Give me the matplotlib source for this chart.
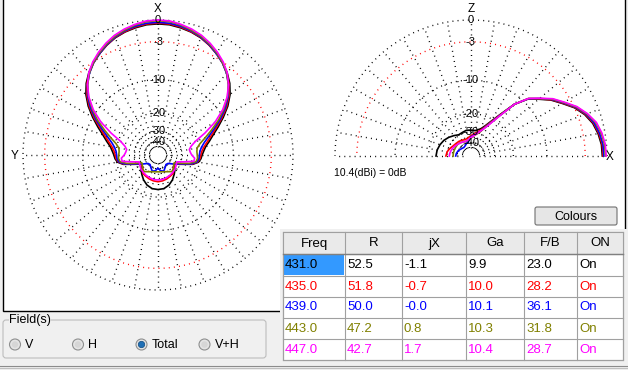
import numpy as np
import matplotlib
matplotlib.use("Agg")
import matplotlib.pyplot as plt
from matplotlib.patches import Rectangle, Circle, FancyBboxPatch

plt.rcParams['font.family'] = ['Liberation Sans', 'DejaVu Sans']

# ---- data (dB relative to 10.4 dBi) ----
series_colors = ['#000000', '#FF0000', '#0000FF', '#808000', '#FF00FF']

# horizontal pattern, degrees from X (pattern is symmetric)
az_angles = [0, 5, 10, 15, 20, 25, 30, 35, 40, 45, 50, 55, 60, 65, 70, 75, 80, 85, 90, 95, 100,
             105, 110, 115, 120, 130, 140, 150, 160, 170, 180]
az_431 = [-0.5, -0.55, -0.75, -1.0, -1.35, -1.85, -2.45, -3.1, -3.9, -4.9, -6.2, -7.9, -10.0, -12.2,
          -14.3, -16.0, -17.6, -18.5, -19.2, -19.6, -20.4,
          -22.7, -27.5, -31.3, -34.2, -31.0, -28.8, -26.5, -24.7, -23.6, -23.4]
az_435 = [-0.4, -0.45, -0.65, -0.95, -1.3, -1.85, -2.45, -3.15, -4.0, -5.05, -6.4, -8.2, -10.4, -12.8,
          -14.9, -16.7, -18.2, -19.2, -19.7, -20.0, -20.8,
          -23.0, -27.8, -31.6, -33.5, -32.8, -29.8, -29.3, -28.6, -28.1, -27.8]
az_439 = [-0.3, -0.35, -0.55, -0.85, -1.25, -1.8, -2.45, -3.15, -4.05, -5.2, -6.6, -8.5, -10.8, -13.4,
          -15.8, -17.8, -19.2, -20.0, -20.3, -20.4, -21.0,
          -23.4, -28.2, -32.0, -34.5, -40.0, -41.0, -38.5, -35.5, -36.5, -40.0]
az_443 = [-0.1, -0.15, -0.4, -0.75, -1.15, -1.7, -2.35, -3.1, -4.0, -5.25, -6.8, -8.9, -11.3, -14.2,
          -17.0, -19.5, -21.0, -21.3, -21.2, -21.0, -21.5,
          -24.5, -29.5, -34.5, -34.5, -32.4, -31.4, -33.4, -34.8, -35.5, -35.7]
az_447 = [0.0, -0.05, -0.3, -0.6, -1.0, -1.55, -2.2, -2.95, -3.9, -5.2, -6.9, -9.2, -12.3, -16.5,
          -21.0, -23.5, -24.8, -24.5, -23.8, -22.3, -22.5,
          -28.0, -32.7, -32.5, -32.0, -31.0, -30.5, -30.0, -29.5, -29.0, -29.0]

# vertical pattern, elevation degrees from X towards Z and back
el_angles = [0, 5, 10, 15, 20, 25, 30, 35, 40, 45, 50, 55, 60, 65, 70, 80, 90, 100, 110, 120,
             130, 140, 150, 160, 170, 180]
el_431 = [-0.6, -0.65, -0.9, -1.3, -2.0, -3.0, -4.4, -5.7, -7.4, -9.0, -12.0, -17.0, -21.0, -24.2,
          -26.5, -28.5, -28.5, -28.3, -29.0, -29.4, -28.0, -26.5, -25.2, -24.3, -23.6, -23.3]
el_435 = [-0.5, -0.55, -0.8, -1.2, -1.9, -2.9, -4.3, -5.6, -7.3, -8.9, -12.0, -17.3, -21.5, -25.0,
          -27.5, -30.5, -32.5, -34.5, -35.3, -34.5, -33.8, -33.3, -32.5, -31.0, -29.6, -29.0]
el_439 = [-0.4, -0.45, -0.7, -1.1, -1.8, -2.8, -4.2, -5.5, -7.2, -8.9, -12.0, -17.6, -22.0, -25.5,
          -28.5, -31.5, -33.5, -38.0, -40.0, -42.0, -43.0, -42.0, -40.5, -39.0, -38.0, -37.5]
el_443 = [-0.2, -0.25, -0.5, -0.9, -1.7, -2.7, -4.1, -5.4, -7.2, -8.8, -12.0, -17.8, -22.3, -25.8,
          -29.0, -32.0, -34.5, -36.5, -37.5, -36.5, -35.5, -35.0, -35.0, -35.0, -34.8, -34.8]
el_447 = [-0.1, -0.15, -0.4, -0.8, -1.6, -2.6, -4.0, -5.3, -7.1, -8.8, -12.0, -18.0, -22.7, -26.0,
          -28.3, -31.9, -34.2, -36.3, -37.2, -36.5, -35.7, -34.8, -33.7, -32.6, -31.9, -31.5]

ring_db = [0, -3, -10, -20, -30, -40]
ring_labels = ['0', '-3', '-10', '-20', '-30', '-40']
ring_colors = ['black', '#FF0000', 'black', 'black', 'black', 'black']

# table
table_header = ['Freq', 'R', 'jX', 'Ga', 'F/B', 'ON']
freq = [431.0, 435.0, 439.0, 443.0, 447.0]
res_r = [52.5, 51.8, 50.0, 47.2, 42.7]
res_jx = [-1.1, -0.7, -0.0, 0.8, 1.7]
gain = [9.9, 10.0, 10.1, 10.3, 10.4]
fb = [23.0, 28.2, 36.1, 31.8, 28.7]
on_state = ['On', 'On', 'On', 'On', 'On']

field_options = ['V', 'H', 'Total', 'V+H']
field_selected = 'Total'

W, H = 628, 370
fig = plt.figure(figsize=(W / 100, H / 100), dpi=100, facecolor='#F0F0F0')


def box(x0, y0, x1, y1):
    return [x0 / W, 1 - y1 / H, (x1 - x0) / W, (y1 - y0) / H]


def to_r(db):
    # ARRL style log scale, 0.89 per 2 dB
    return 0.89 ** (-np.asarray(db, dtype=float) / 2.0)


dots = (0, (0.7, 3))

bg = fig.add_axes([0, 0, 1, 1], zorder=0)
bg.set_xlim(0, W)
bg.set_ylim(H, 0)
bg.axis('off')
bg.add_patch(Rectangle((3, -3), 622, 314, fc='white', ec='black', lw=1))

RMAX = 1.05


def polar_ax(cx, cy, R):
    rr = R * RMAX
    ax = fig.add_axes(box(cx - rr, cy - rr, cx + rr, cy + rr), projection='polar', zorder=1)
    ax.set_ylim(0, RMAX)
    ax.set_axis_off()
    ax.patch.set_alpha(0)
    return ax


# ---- horizontal (left) ----
axh = polar_ax(158, 155, 135)
axh.set_theta_zero_location('N')
axh.set_theta_direction(-1)
t = np.linspace(0, 2 * np.pi, 721)
for db, col in zip(ring_db, ring_colors):
    axh.plot(t, np.full_like(t, to_r(db)), ls=dots, lw=1.0, color=col)
for a in range(0, 360, 10):
    axh.plot([np.radians(a)] * 2, [0.06, 1.0], ls=dots, lw=1.0, color='black')
az_series = [az_431, az_435, az_439, az_443, az_447]
th = np.radians(az_angles)
for vals, col in zip(az_series, series_colors):
    r = to_r(vals)
    axh.plot(np.concatenate([th, -th[::-1]]), np.concatenate([r, r[::-1]]),
             color=col, lw=1.2, zorder=3)
for db, lbl in zip(ring_db, ring_labels):
    axh.text(0, to_r(db), lbl, ha='center', va='center', fontsize=8, zorder=4)

# ---- vertical (right) ----
axv = polar_ax(471, 156, 136)
axv.set_theta_zero_location('E')
t2 = np.linspace(0, np.pi, 361)
for db, col in zip(ring_db, ring_colors):
    axv.plot(t2, np.full_like(t2, to_r(db)), ls=dots, lw=1.0, color=col)
for a in range(0, 190, 10):
    axv.plot([np.radians(a)] * 2, [0.06, 1.0], ls=dots, lw=1.0, color='black')
el_series = [el_431, el_435, el_439, el_443, el_447]
for vals, col in zip(el_series, series_colors):
    axv.plot(np.radians(el_angles), to_r(vals), color=col, lw=1.2, zorder=3)
for db, lbl in zip(ring_db, ring_labels):
    axv.text(np.pi / 2, to_r(db), lbl, ha='center', va='center', fontsize=8, zorder=4)

bg.text(158, 9, 'X', ha='center', va='center', fontsize=8.5)
bg.text(15, 156, 'Y', ha='center', va='center', fontsize=8.5)
bg.text(471, 9, 'Z', ha='center', va='center', fontsize=8.5)
fg = fig.add_axes([0, 0, 1, 1], zorder=5)
fg.set_xlim(0, W)
fg.set_ylim(H, 0)
fg.axis('off')
fg.patch.set_alpha(0)
fg.text(610, 157, 'X', ha='center', va='center', fontsize=8.5)
fg.text(334, 173, '10.4(dBi) = 0dB', ha='left', va='center', fontsize=7.5)

# Colours button
fg.add_patch(FancyBboxPatch((535, 207), 82, 18, boxstyle='round,pad=0,rounding_size=2',
                            fc='#E6E6E6', ec='#707070', lw=0.8))
fg.text(576, 216.5, 'Colours', ha='center', va='center', fontsize=9)

# table
col_x = [283, 345, 402, 466, 524, 577, 623]
row_y = [232, 254, 275.5, 296.5, 317.5, 339, 360]
fg.add_patch(Rectangle((280, 229), 348, 141, fc='#F0F0F0', ec='none'))
fg.add_patch(Rectangle((283, 232), 340, 128, fc='white', ec='#808080', lw=0.8))
fg.add_patch(Rectangle((283, 232), 340, 22, fc='#EAEAEA', ec='none'))
fg.add_patch(Rectangle((284, 255), 60, 20, fc='#3399FF', ec='none'))
for x in col_x:
    fg.plot([x, x], [232, 360], color='#A0A0A0', lw=0.8)
for y in row_y:
    fg.plot([283, 623], [y, y], color='#A0A0A0', lw=0.8)
fg.plot([283, 623], [254, 254], color='#808080', lw=1.0)
for i, h in enumerate(table_header):
    fg.text((col_x[i] + col_x[i + 1]) / 2, 243.5, h, ha='center', va='center', fontsize=9.5)
cols = [freq, res_r, res_jx, gain, fb]
for j in range(len(freq)):
    yc = (row_y[j + 1] + row_y[j + 2]) / 2 + 0.5
    for i, c in enumerate(cols):
        color = 'black' if (i == 0 and j == 0) else series_colors[j]
        fg.text(col_x[i] + 2, yc, f'{c[j]:.1f}', ha='left', va='center', fontsize=9.5, color=color)
    fg.text(col_x[5] + 2, yc, on_state[j], ha='left', va='center', fontsize=9.5, color=series_colors[j])

# bottom window edge
fg.plot([0, W], [365.5, 365.5], color='#8C8C8C', lw=0.8)
fg.plot([0, W], [368, 368], color='#C0C0C0', lw=0.8)

# Field(s) group
fg.add_patch(FancyBboxPatch((3, 320), 263, 38, boxstyle='round,pad=0,rounding_size=3',
                            fc='none', ec='#BDBDBD', lw=0.8))
fg.text(9, 320.5, 'Field(s)', ha='left', va='center', fontsize=9,
        bbox=dict(fc='#F0F0F0', ec='none', pad=0.3))
radio_x = [15, 78, 141.5, 204.5]
for x, name in zip(radio_x, field_options):
    fg.add_patch(Circle((x, 344.5), 5.5, fc='#E4E4E4', ec='#8E8F8F', lw=0.8))
    if name == field_selected:
        fg.add_patch(Circle((x, 344.5), 3.2, fc='#1F6FB5', ec='#0D4A80', lw=0.5))
    else:
        fg.add_patch(Circle((x, 344.5), 3.2, fc='#D6D6D6', ec='none'))
    fg.text(x + 10, 344.5, name, ha='left', va='center', fontsize=9)

fig.savefig('out.png', dpi=100, facecolor=fig.get_facecolor())
